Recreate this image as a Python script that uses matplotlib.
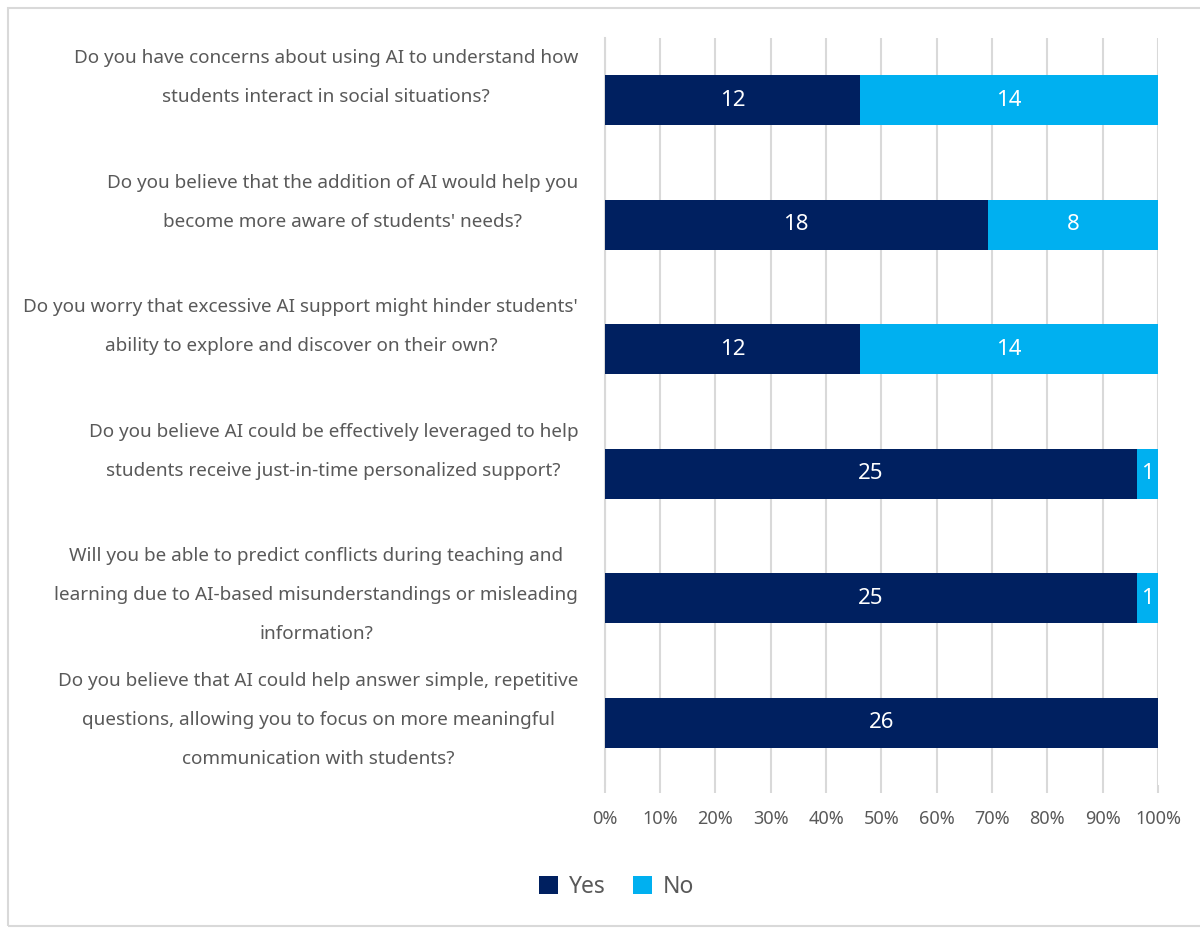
import matplotlib
matplotlib.use('Agg')
import matplotlib.pyplot as plt
from matplotlib.patches import Rectangle
import matplotlib.transforms as mtransforms

questions = [
    "Do you have concerns about using AI to understand how\nstudents interact in social situations?",
    "Do you believe that the addition of AI would help you\nbecome more aware of students' needs?",
    "Do you worry that excessive AI support might hinder students'\nability to explore and discover on their own?",
    "Do you believe AI could be effectively leveraged to help\nstudents receive just-in-time personalized support?",
    "Will you be able to predict conflicts during teaching and\nlearning due to AI-based misunderstandings or misleading\ninformation?",
    "Do you believe that AI could help answer simple, repetitive\nquestions, allowing you to focus on more meaningful\ncommunication with students?",
]
yes_counts = [12, 18, 12, 25, 25, 26]
no_counts = [14, 8, 14, 1, 1, 0]
ticks = [0, 10, 20, 30, 40, 50, 60, 70, 80, 90, 100]

navy = "#002060"
sky = "#00B0F0"
grey_txt = "#595959"
grid_col = "#d9d9d9"

plt.rcParams['font.family'] = ['Noto Sans', 'DejaVu Sans']

fig = plt.figure(figsize=(12, 9.3), dpi=100, facecolor='white')
ax = fig.add_axes([0.504, 0.156, 0.461, 0.803])

totals = [y + n for y, n in zip(yes_counts, no_counts)]
yes_pct = [100 * y / t for y, t in zip(yes_counts, totals)]
no_pct = [100 * n / t for n, t in zip(no_counts, totals)]
pos = list(range(len(questions)))

b1 = ax.barh(pos, yes_pct, height=0.4, color=navy, label="Yes", zorder=3)
b2 = ax.barh(pos, no_pct, left=yes_pct, height=0.4, color=sky, label="No", zorder=3)

ax.bar_label(b1, labels=[str(v) if v else "" for v in yes_counts], label_type='center',
             color='white', fontsize=16)
ax.bar_label(b2, labels=[str(v) if v else "" for v in no_counts], label_type='center',
             color='white', fontsize=16)

ax.set_xlim(0, 100)
ax.set_ylim(len(questions) - 0.5, -0.5)
ax.set_xticks(ticks)
ax.set_xticklabels([f"{t}%" for t in ticks], color=grey_txt, fontsize=13)
ax.set_yticks([])
ax.tick_params(axis='x', length=6, width=1.5, color=grid_col, pad=12)
ax.grid(axis='x', color=grid_col, linewidth=1.5, zorder=0)
for s in ['top', 'right', 'bottom']:
    ax.spines[s].set_visible(False)
ax.spines['left'].set_color(grid_col)
ax.spines['left'].set_linewidth(1.5)

trans = mtransforms.blended_transform_factory(ax.transAxes, ax.transData)
for i, q in enumerate(questions):
    ax.text(-0.048, i - 0.41, q, transform=trans, ha='right', va='top',
            multialignment='center', color=grey_txt, fontsize=13.6, linespacing=2.5)

fig.legend(handles=[b1, b2], loc='center', bbox_to_anchor=(0.514, 0.046), ncol=2,
           frameon=False, fontsize=16.5, labelcolor=grey_txt, handlelength=0.8,
           handleheight=0.8, handletextpad=0.5, columnspacing=1.2)

fig.patches.append(Rectangle((8 / 1200, 4 / 930), 1.05, 918 / 930, transform=fig.transFigure,
                             fill=False, edgecolor=grid_col, linewidth=1.5))

fig.savefig("out.png", dpi=100, facecolor='white')
